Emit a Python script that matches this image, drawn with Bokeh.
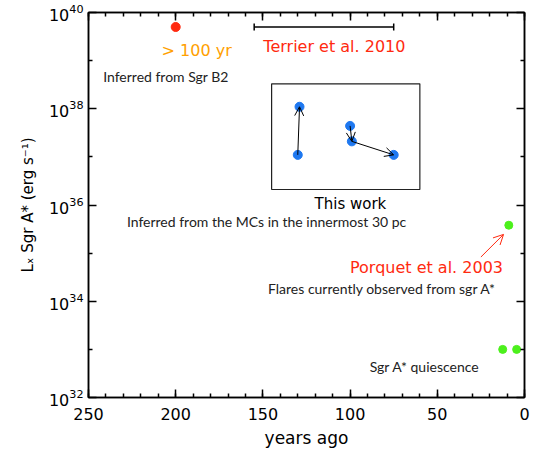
import math
from bokeh.plotting import figure
from bokeh.models import (Range1d, LogAxis, LinearAxis, FixedTicker, Label, Arrow,
                          OpenHead, Whisker, TeeHead, ColumnDataSource, BoxAnnotation)
from bokeh.embed import file_html
from bokeh.resources import INLINE

# ---------------- data ----------------
years_sgrb2 = [200]
lum_sgrb2 = [5e39]

terrier_lum = [5e39]
terrier_lo = [75]
terrier_hi = [155]

years_mc = [130, 129, 100, 99, 75]
lum_mc = [1.1e37, 1.1e38, 4.4e37, 2.1e37, 1.1e37]
mc_arrow_from = [0, 2, 3]
mc_arrow_to = [1, 3, 4]

years_sgra = [9, 12.5, 4.5]
lum_sgra = [3.8e35, 1e33, 1e33]

porquet_arrow_years = [25, 12]
porquet_arrow_lum = [8.3e34, 2.45e35]

x_ticks = [0, 50, 100, 150, 200, 250]
x_minor = [0, 10, 20, 30, 40, 50, 60, 70, 80, 90, 100, 110, 120, 130, 140, 150,
           160, 170, 180, 190, 200, 210, 220, 230, 240, 250]
y_ticks = [1e32, 1e34, 1e36, 1e38, 1e40]
y_minor = [1e33, 1e35, 1e37, 1e39]

# box around "This work" points (annotation frame)
BOX = dict(left=145, right=60, bottom=2.1e36, top=3.3e38)

RED = "#FF2A10"
ORANGE = "#FFA000"
BLUE = "#1E78F0"
GREEN = "#4CF01C"
TXT = "#222222"
AXFONT = "DejaVu Sans"
NOTEFONT = "Lato"

p = figure(width=541, height=452, x_range=Range1d(250, 0),
           y_range=Range1d(1e32, 1e40), y_axis_type="log", output_backend="svg",
           toolbar_location=None, min_border_left=88, min_border_right=17,
           min_border_top=12, min_border_bottom=55)
p.grid.visible = False
p.outline_line_color = "black"
p.outline_line_width = 1.5
p.background_fill_color = "white"
p.border_fill_color = "white"


def style_axis(ax, labels=True):
    ax.major_tick_in = 8
    ax.major_tick_out = 0
    ax.minor_tick_in = 4
    ax.minor_tick_out = 0
    ax.major_tick_line_color = "black"
    ax.minor_tick_line_color = "black"
    ax.major_tick_line_width = 1.5
    ax.minor_tick_line_width = 1.5
    ax.axis_line_color = "black"
    ax.axis_line_width = 1.5
    if labels:
        ax.major_label_text_font = AXFONT
        ax.major_label_text_font_size = "16px"
        ax.major_label_text_color = "black"
    else:
        ax.major_label_text_font_size = "1px"
        ax.major_label_text_alpha = 0
        ax.major_label_standoff = 0


xax = p.xaxis[0]
xax.ticker = FixedTicker(ticks=x_ticks, minor_ticks=x_minor)
style_axis(xax)
xax.major_label_standoff = 10
xax.axis_label = "years ago"
xax.axis_label_text_font = AXFONT
xax.axis_label_text_font_size = "17px"
xax.axis_label_text_font_style = "normal"
xax.axis_label_text_color = "black"
xax.axis_label_standoff = 5

yax = p.yaxis[0]
yax.ticker = FixedTicker(ticks=y_ticks, minor_ticks=y_minor)
style_axis(yax)
yax.major_label_standoff = 5
yax.axis_label = "L\u2093 Sgr A* (erg s\u207b\u00b9)"
yax.axis_label_text_font = AXFONT
yax.axis_label_text_font_size = "15px"
yax.axis_label_text_font_style = "normal"
yax.axis_label_text_color = "black"
yax.axis_label_standoff = 9

top = LinearAxis(ticker=FixedTicker(ticks=x_ticks, minor_ticks=x_minor))
style_axis(top, labels=False)
p.add_layout(top, "above")
right = LogAxis(ticker=FixedTicker(ticks=y_ticks, minor_ticks=y_minor))
style_axis(right, labels=False)
p.add_layout(right, "right")

# ---------------- marks ----------------
p.scatter(years_sgrb2, lum_sgrb2, size=9, color=RED, marker="circle")

wsrc = ColumnDataSource(dict(base=terrier_lum, lower=terrier_hi, upper=terrier_lo))
p.add_layout(Whisker(source=wsrc, base="base", lower="lower", upper="upper", dimension="width",
                     line_color="black", line_width=1.5,
                     lower_head=TeeHead(size=7, line_color="black", line_width=1.5),
                     upper_head=TeeHead(size=7, line_color="black", line_width=1.5)))

p.add_layout(BoxAnnotation(fill_alpha=0, line_color="#222222", line_alpha=1, line_width=1.2,
                           **BOX))

p.scatter(years_mc, lum_mc, size=9, color=BLUE, marker="circle")
asrc = ColumnDataSource(dict(
    xs=[years_mc[i] for i in mc_arrow_from], ys=[lum_mc[i] for i in mc_arrow_from],
    xe=[years_mc[i] for i in mc_arrow_to], ye=[lum_mc[i] for i in mc_arrow_to]))
p.add_layout(Arrow(source=asrc, x_start="xs", y_start="ys", x_end="xe", y_end="ye",
                   line_color="black", line_width=1,
                   end=OpenHead(size=9, line_color="black", line_width=1)))

p.scatter(years_sgra, lum_sgra, size=8, color=GREEN, marker="circle")
p.add_layout(Arrow(x_start=porquet_arrow_years[0], y_start=porquet_arrow_lum[0],
                   x_end=porquet_arrow_years[1], y_end=porquet_arrow_lum[1],
                   line_color=RED, line_width=1,
                   end=OpenHead(size=10, line_color=RED, line_width=1)))

# ---------------- texts ----------------
def note(x, y, text, color=TXT, font=NOTEFONT, size="14px"):
    p.add_layout(Label(x=x, y=y, text=text, text_color=color, text_font=font,
                       text_font_size=size, text_align="center", text_baseline="middle"))

note(188, 1.6e39, "> 100 yr", ORANGE, AXFONT, "16px")
note(205.6, 4.6e38, "Inferred from Sgr B2")
note(109, 1.95e39, "Terrier et al. 2010", RED, AXFONT, "16px")
note(99.8, 1.05e36, "This work", "black", AXFONT, "15px")
note(147.9, 4.5e35, "Inferred from the MCs in the innermost 30 pc")
note(56.2, 5.1e34, "Porquet et al. 2003", RED, AXFONT, "16px")
note(81.7, 1.86e34, "Flares currently observed from sgr A*")
note(57.3, 4.5e32, "Sgr A* quiescence")

open("out.html", "w").write(file_html(p, INLINE))
